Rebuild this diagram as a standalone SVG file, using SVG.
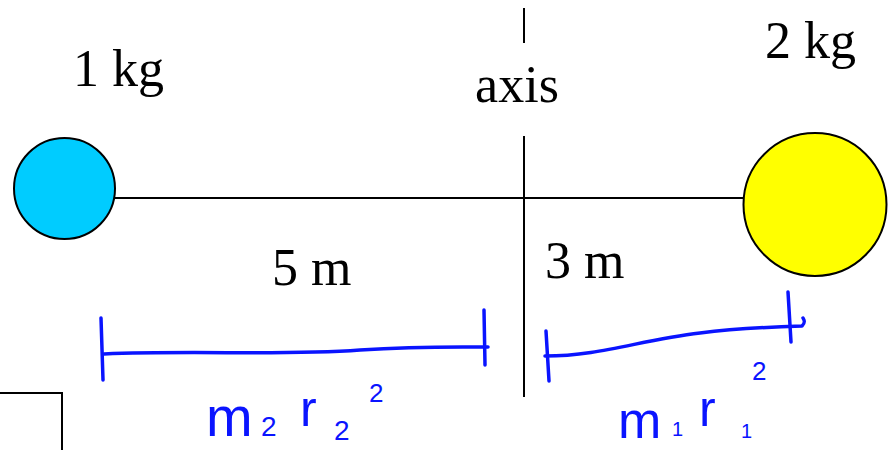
<svg xmlns="http://www.w3.org/2000/svg" width="888" height="450" viewBox="0 0 888 450">
<style>
.lbl{font-family:"Liberation Serif","Times New Roman",serif;font-size:52px;fill:#000}
.hand{font-family:"Liberation Sans",Arial,sans-serif;fill:#0a14ff}
.ln{stroke:#000;stroke-width:2;fill:none}
.blue{stroke:#0a14ff;stroke-width:3.5;fill:none;stroke-linecap:round;stroke-linejoin:round}
</style>
<rect width="888" height="450" fill="#fff"/>
<g id="connectors">
<line class="ln" x1="114" y1="198" x2="744" y2="198"/>
<line class="ln" x1="524" y1="8" x2="524" y2="43"/>
<line class="ln" x1="524" y1="136" x2="524" y2="397"/>
<polyline class="ln" points="0,393 62,393 62,450"/>
</g>
<g id="mass1">
<circle cx="64.5" cy="188.5" r="50.5" fill="#00ccff" stroke="#000" stroke-width="2"/>
<text class="lbl" x="73" y="86">1 kg</text>
</g>
<g id="mass2">
<circle cx="815" cy="204.5" r="71.5" fill="#ffff00" stroke="#000" stroke-width="2"/>
<text class="lbl" x="765" y="58">2 kg</text>
</g>
<g id="axis">
<text class="lbl" x="517" y="102" text-anchor="middle">axis</text>
</g>
<g id="dist5">
<text class="lbl" x="272" y="285">5 m</text>
</g>
<g id="dist3">
<text class="lbl" x="545" y="278">3 m</text>
</g>
<g id="bracket2">
<path class="blue" d="M101,318 L103,380"/>
<path class="blue" d="M104,354 C200,350 280,356 360,350 C420,346 460,347 488,347"/>
<path class="blue" d="M484,310 L485,365"/>
<text class="hand" font-size="56" x="206" y="436">m</text>
<text class="hand" font-size="28" x="261" y="436">2</text>
<text class="hand" font-size="50" x="300" y="426">r</text>
<text class="hand" font-size="28" x="334" y="440">2</text>
<text class="hand" font-size="26" x="369" y="402">2</text>
</g>
<g id="bracket1">
<path class="blue" d="M546,331 L549,381"/>
<path class="blue" d="M545,356 C600,356 640,340 700,333 C740,328 770,327 802,326 C806,322 804,320 803,318"/>
<path class="blue" d="M788,292 L791,342"/>
<text class="hand" font-size="52" x="618" y="438">m</text>
<text class="hand" font-size="20" x="672" y="436">1</text>
<text class="hand" font-size="50" x="699" y="426">r</text>
<text class="hand" font-size="20" x="741" y="438">1</text>
<text class="hand" font-size="26" x="752" y="380">2</text>
</g>
</svg>
